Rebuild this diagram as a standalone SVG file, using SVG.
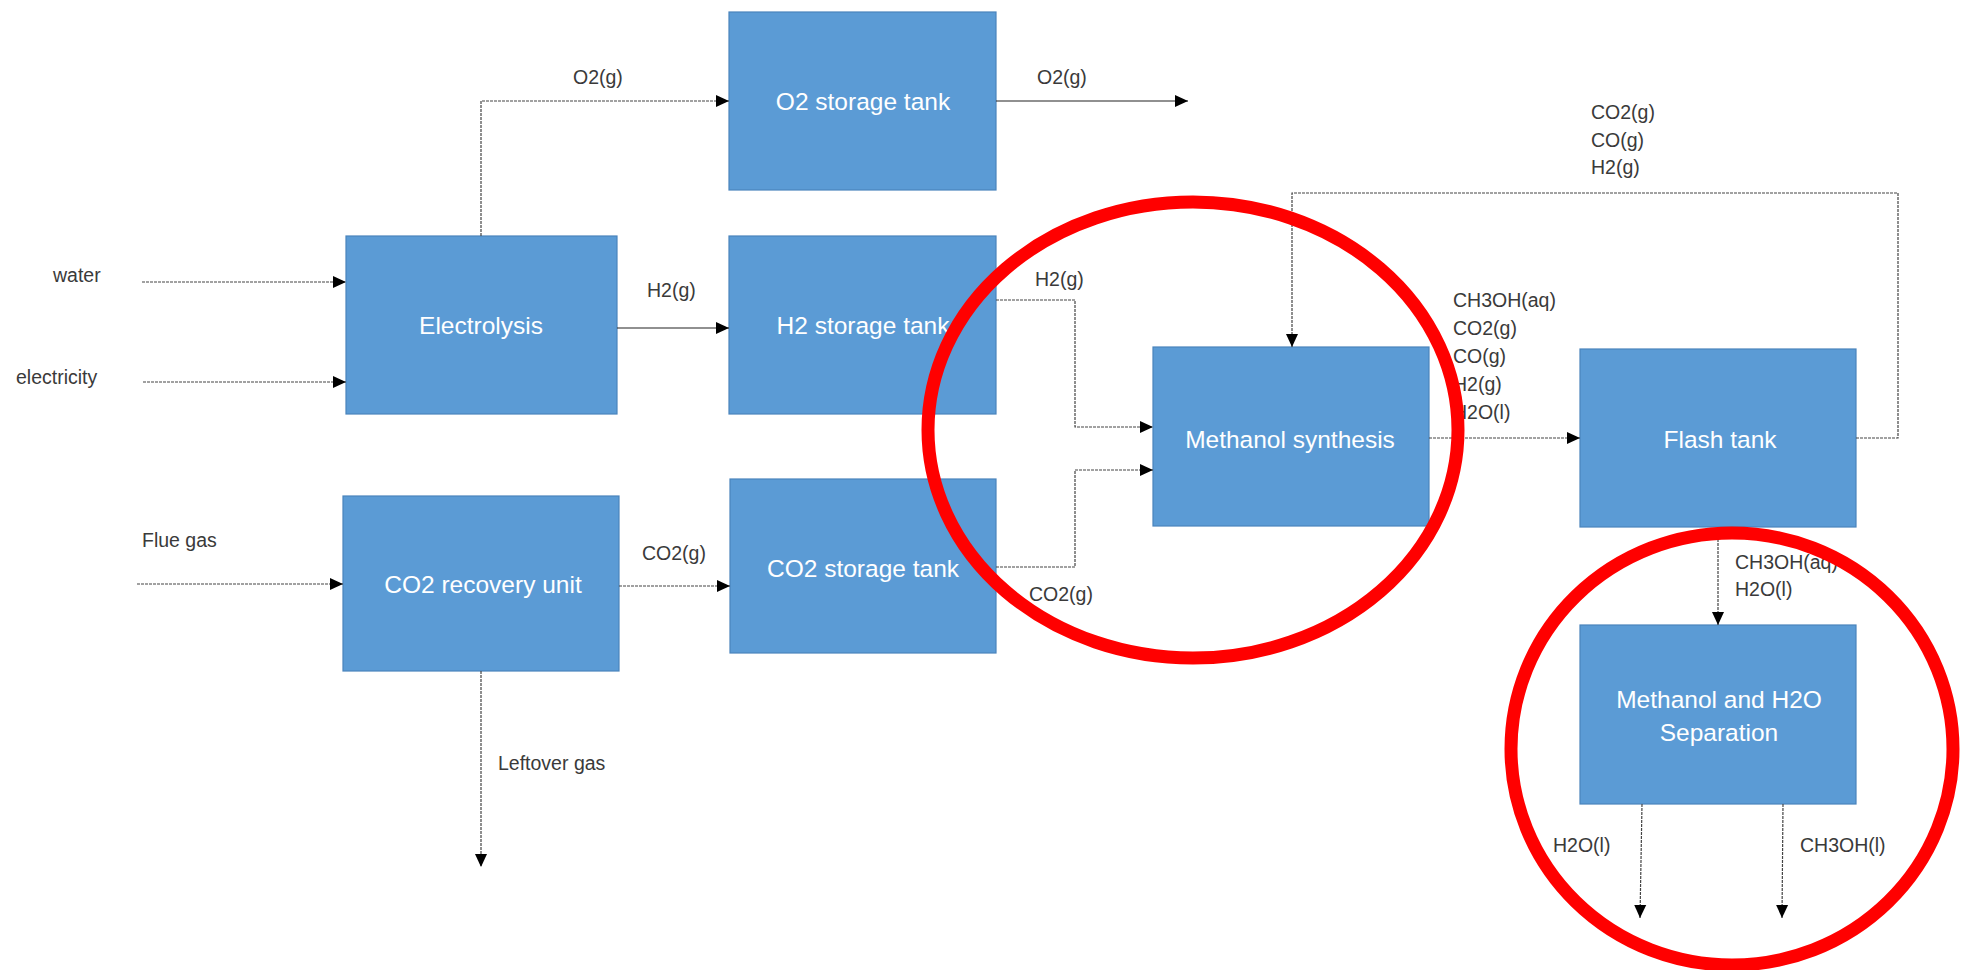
<svg xmlns="http://www.w3.org/2000/svg" width="1962" height="970" viewBox="0 0 1962 970">
  <style>
    .box { fill: #5B9BD5; stroke: #4A84BC; stroke-width: 1.2; }
    .btxt { font-family: "Liberation Sans", Arial, sans-serif; font-size: 24.5px; fill: #ffffff; text-anchor: middle; }
    .lbl { font-family: "Liberation Sans", Arial, sans-serif; font-size: 19.5px; fill: #3a3a3a; }
    .flow { fill: none; stroke: #444444; stroke-width: 1.2; stroke-dasharray: 3 1; marker-end: url(#arrow); }
    .flow.solid { stroke: #222222; stroke-dasharray: none; }
    .mark { fill: none; stroke: #FF0000; stroke-width: 13; }
  </style>
  <defs>
    <marker id="arrow" markerUnits="userSpaceOnUse" markerWidth="14" markerHeight="14" refX="13" refY="7" orient="auto">
      <path d="M0,1 L13,7 L0,13 Z" fill="#000000"/>
    </marker>
  </defs>
  <rect width="1962" height="970" fill="#ffffff"/>

  <!-- process units -->
  <g id="o2-tank">
    <rect class="box" x="729" y="12" width="267" height="178"/>
    <text class="btxt" x="863" y="110">O2 storage tank</text>
  </g>
  <g id="electrolysis">
    <rect class="box" x="346" y="236" width="271" height="178"/>
    <text class="btxt" x="481" y="334">Electrolysis</text>
  </g>
  <g id="h2-tank">
    <rect class="box" x="729" y="236" width="267" height="178"/>
    <text class="btxt" x="863" y="334">H2 storage tank</text>
  </g>
  <g id="co2-recovery">
    <rect class="box" x="343" y="496" width="276" height="175"/>
    <text class="btxt" x="483" y="593">CO2 recovery unit</text>
  </g>
  <g id="co2-tank">
    <rect class="box" x="730" y="479" width="266" height="174"/>
    <text class="btxt" x="863" y="577">CO2 storage tank</text>
  </g>
  <g id="methanol-synthesis">
    <rect class="box" x="1153" y="347" width="276" height="179"/>
    <text class="btxt" x="1290" y="448">Methanol synthesis</text>
  </g>
  <g id="flash-tank">
    <rect class="box" x="1580" y="349" width="276" height="178"/>
    <text class="btxt" x="1720" y="448">Flash tank</text>
  </g>
  <g id="separation">
    <rect class="box" x="1580" y="625" width="276" height="179"/>
    <text class="btxt" x="1719" y="708">Methanol and H2O</text>
    <text class="btxt" x="1719" y="741">Separation</text>
  </g>

  <!-- streams -->
  <g id="connectors">
    <polyline class="flow" points="481,236 481,101 729,101"/>
    <line class="flow solid" x1="996" y1="101" x2="1188" y2="101"/>
    <line class="flow" x1="142" y1="282" x2="346" y2="282"/>
    <line class="flow" x1="143" y1="382" x2="346" y2="382"/>
    <line class="flow solid" x1="617" y1="328" x2="729" y2="328"/>
    <polyline class="flow" points="996,300 1075,300 1075,427 1153,427"/>
    <line class="flow" x1="137" y1="584" x2="343" y2="584"/>
    <line class="flow" x1="619" y1="586" x2="730" y2="586"/>
    <polyline class="flow" points="996,567 1075,567 1075,470 1153,470"/>
    <line class="flow" x1="481" y1="671" x2="481" y2="867"/>
    <line class="flow" x1="1429" y1="438" x2="1580" y2="438"/>
    <polyline class="flow" points="1856,438 1898,438 1898,193 1292,193 1292,347"/>
    <line class="flow" x1="1718" y1="527" x2="1718" y2="625"/>
    <line class="flow" x1="1642" y1="804" x2="1640" y2="918"/>
    <line class="flow" x1="1783" y1="804" x2="1782" y2="918"/>
  </g>

  <!-- stream labels -->
  <g id="labels">
    <text class="lbl" x="573" y="84">O2(g)</text>
    <text class="lbl" x="1037" y="84">O2(g)</text>
    <text class="lbl" x="53" y="282">water</text>
    <text class="lbl" x="16" y="384">electricity</text>
    <text class="lbl" x="647" y="297">H2(g)</text>
    <text class="lbl" x="1035" y="286">H2(g)</text>
    <text class="lbl" x="142" y="547">Flue gas</text>
    <text class="lbl" x="642" y="560">CO2(g)</text>
    <text class="lbl" x="1029" y="601">CO2(g)</text>
    <text class="lbl" x="498" y="770">Leftover gas</text>
    <text class="lbl" x="1591" y="119">CO2(g)</text>
    <text class="lbl" x="1591" y="147">CO(g)</text>
    <text class="lbl" x="1591" y="174">H2(g)</text>
    <text class="lbl" x="1453" y="307">CH3OH(aq)</text>
    <text class="lbl" x="1453" y="335">CO2(g)</text>
    <text class="lbl" x="1453" y="363">CO(g)</text>
    <text class="lbl" x="1453" y="391">H2(g)</text>
    <text class="lbl" x="1453" y="419">H2O(l)</text>
    <text class="lbl" x="1735" y="569">CH3OH(aq)</text>
    <text class="lbl" x="1735" y="596">H2O(l)</text>
    <text class="lbl" x="1553" y="852">H2O(l)</text>
    <text class="lbl" x="1800" y="852">CH3OH(l)</text>
  </g>

  <!-- highlight rings -->
  <g id="highlights">
    <ellipse class="mark" cx="1193" cy="430" rx="265" ry="228"/>
    <ellipse class="mark" cx="1732" cy="749" rx="221" ry="216"/>
  </g>
</svg>
